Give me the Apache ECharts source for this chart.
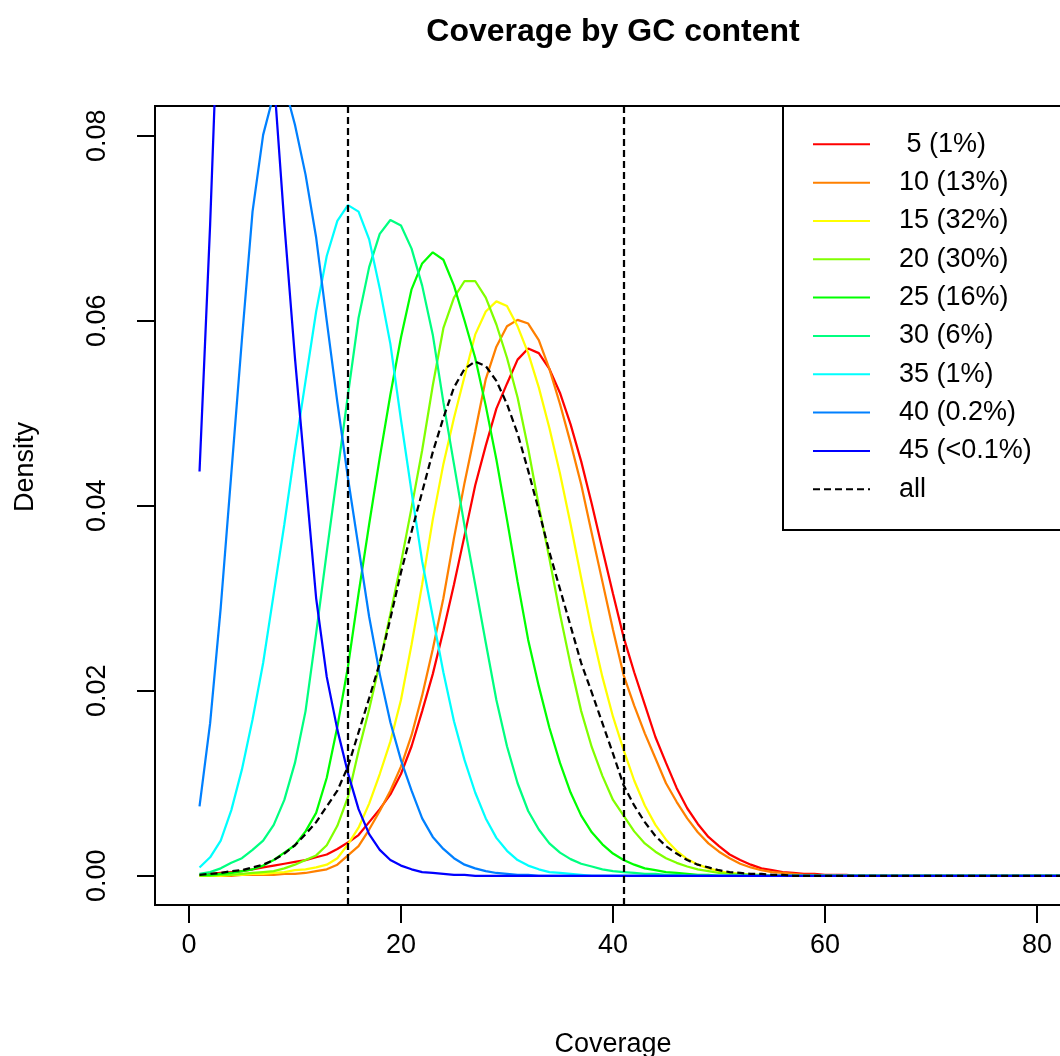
<!DOCTYPE html>
<html><head><meta charset="utf-8">
<script src="https://cdn.jsdelivr.net/npm/echarts@6/dist/echarts.min.js"></script>
<style>html,body{margin:0;padding:0;background:#fff}#c{width:1060px;height:1056px}</style>
</head><body><div id="c"></div>
<script>
// Coverage values (x)
const coverage = [1,2,3,4,5,6,7,8,9,10,11,12,13,14,15,16,17,18,19,20,21,22,23,24,25,26,27,28,29,30,31,32,33,34,35,36,37,38,39,40,41,42,43,44,45,46,47,48,49,50,51,52,53,54,55,56,57,58,59,60,61,62,63,64,65,66,67,68,69,70,71,72,73,74,75,76,77,78,79,80,81,82,83,84,85];

// Density per GC bin
const gc5 = [0.0001,0.0002,0.0003,0.0004,0.0005,0.0007,0.0009,0.0011,0.0013,0.0015,
0.0017,0.0020,0.0023,0.0029,0.0036,0.0044,0.0058,0.0072,0.0088,0.0110,
0.0140,0.0178,0.0218,0.0265,0.0315,0.0368,0.0422,0.0465,0.0505,0.0532,
0.0558,0.0570,0.0565,0.0548,0.0522,0.0488,0.0448,0.0402,0.0353,0.0305,
0.0258,0.0220,0.0185,0.0150,0.0122,0.0095,0.0073,0.0056,0.0042,0.0032,
0.0023,0.0017,0.0012,0.0008,0.0006,0.0004,0.0003,0.0002,0.0002,0.0001,
0.0001,0.0001,0,0,0,0,0,0,0,0,
0,0,0,0,0,0,0,0,0,0,0,0,0,0,0];
const gc10 = [0,0,0,0,0.0001,0.0001,0.0001,0.0001,0.0002,0.0002,
0.0003,0.0005,0.0007,0.0012,0.0022,0.0032,0.0050,0.0070,0.0092,0.0118,
0.0152,0.0195,0.0245,0.0300,0.0365,0.0425,0.0480,0.0537,0.0572,0.0594,
0.0601,0.0597,0.0579,0.0548,0.0510,0.0468,0.0423,0.0370,0.0318,0.0266,
0.0217,0.0184,0.0154,0.0127,0.0100,0.0080,0.0062,0.0047,0.0035,0.0026,
0.0019,0.0013,0.0009,0.0006,0.0004,0.0003,0.0002,0.0001,0.0001,0,
0,0,0,0,0,0,0,0,0,0,
0,0,0,0,0,0,0,0,0,0,0,0,0,0,0];
const gc15 = [0,0,0,0.0001,0.0001,0.0002,0.0002,0.0003,0.0004,0.0006,
0.0007,0.0009,0.0012,0.0019,0.0034,0.0052,0.0078,0.0110,0.0145,0.0190,
0.0250,0.0315,0.0385,0.0445,0.0495,0.0540,0.0585,0.0610,0.0621,0.0616,
0.0594,0.0565,0.0528,0.0484,0.0435,0.0380,0.0322,0.0265,0.0215,0.0172,
0.0136,0.0103,0.0076,0.0055,0.0039,0.0027,0.0018,0.0012,0.0008,0.0005,
0.0003,0.0002,0.0001,0.0001,0,0,0,0,0,0,
0,0,0,0,0,0,0,0,0,0,
0,0,0,0,0,0,0,0,0,0,0,0,0,0,0];
const gc20 = [0,0,0.0001,0.0001,0.0002,0.0003,0.0004,0.0005,0.0008,0.0012,
0.0017,0.0022,0.0033,0.0054,0.0085,0.0135,0.0180,0.0230,0.0283,0.0338,
0.0398,0.0460,0.0530,0.0592,0.0625,0.0643,0.0643,0.0625,0.0596,0.0560,
0.0517,0.0462,0.0400,0.0343,0.0283,0.0228,0.0178,0.0139,0.0108,0.0082,
0.0065,0.0048,0.0035,0.0026,0.0019,0.0014,0.0010,0.0007,0.0005,0.0003,
0.0002,0.0002,0.0001,0.0001,0,0,0,0,0,0,
0,0,0,0,0,0,0,0,0,0,
0,0,0,0,0,0,0,0,0,0,0,0,0,0,0];
const gc25 = [0.0001,0.0001,0.0002,0.0003,0.0005,0.0007,0.0011,0.0017,0.0025,0.0033,
0.0048,0.0068,0.0106,0.0161,0.0226,0.0305,0.0380,0.0452,0.0520,0.0582,
0.0634,0.0662,0.0674,0.0666,0.0638,0.0600,0.0560,0.0508,0.0450,0.0385,
0.0318,0.0255,0.0205,0.0160,0.0122,0.0090,0.0065,0.0047,0.0034,0.0024,
0.0017,0.0012,0.0008,0.0006,0.0004,0.0003,0.0002,0.0001,0.0001,0,
0,0,0,0,0,0,0,0,0,0,
0,0,0,0,0,0,0,0,0,0,
0,0,0,0,0,0,0,0,0,0,0,0,0,0,0];
const gc30 = [0.0002,0.0004,0.0008,0.0014,0.0019,0.0028,0.0038,0.0055,0.0082,0.0122,
0.0178,0.0262,0.0350,0.0435,0.0520,0.0603,0.0658,0.0694,0.0709,0.0703,
0.0678,0.0638,0.0585,0.0512,0.0445,0.0378,0.0315,0.0252,0.0190,0.0140,
0.0100,0.0070,0.0050,0.0035,0.0025,0.0018,0.0013,0.0010,0.0007,0.0005,
0.0004,0.0003,0.0002,0.0002,0.0001,0.0001,0,0,0,0,
0,0,0,0,0,0,0,0,0,0,
0,0,0,0,0,0,0,0,0,0,
0,0,0,0,0,0,0,0,0,0,0,0,0,0,0];
const gc35 = [0.0009,0.0020,0.0038,0.0071,0.0115,0.0169,0.0230,0.0305,0.0380,0.0460,
0.0535,0.0610,0.0670,0.0708,0.0725,0.0718,0.0688,0.0635,0.0575,0.0493,
0.0415,0.0340,0.0280,0.0220,0.0167,0.0125,0.0090,0.0062,0.0041,0.0027,
0.0017,0.0011,0.0007,0.0004,0.0003,0.0002,0.0001,0,0,0,
0,0,0,0,0,0,0,0,0,0,
0,0,0,0,0,0,0,0,0,0,
0,0,0,0,0,0,0,0,0,0,
0,0,0,0,0,0,0,0,0,0,0,0,0,0,0];
const gc40 = [0.0075,0.0165,0.0290,0.0435,0.0580,0.0718,0.0801,0.0845,0.0855,0.0812,
0.0758,0.0690,0.0600,0.0512,0.0430,0.0355,0.0280,0.0218,0.0166,0.0125,
0.0092,0.0062,0.0042,0.0029,0.0019,0.0012,0.0008,0.0005,0.0003,0.0002,
0.0001,0.0001,0,0,0,0,0,0,0,0,
0,0,0,0,0,0,0,0,0,0,
0,0,0,0,0,0,0,0,0,0,
0,0,0,0,0,0,0,0,0,0,
0,0,0,0,0,0,0,0,0,0,0,0,0,0,0];
const gc45 = [0.0437,0.0704,0.1020,0.1120,0.1140,0.1100,0.1000,0.0865,0.0705,0.0560,
0.0430,0.0300,0.0215,0.0158,0.0111,0.0072,0.0045,0.0028,0.0017,0.0011,
0.0007,0.0004,0.0003,0.0002,0.0001,0.0001,0,0,0,0,
0,0,0,0,0,0,0,0,0,0,
0,0,0,0,0,0,0,0,0,0,
0,0,0,0,0,0,0,0,0,0,
0,0,0,0,0,0,0,0,0,0,
0,0,0,0,0,0,0,0,0,0,0,0,0,0,0];
const allGc = [0.0001,0.0002,0.0003,0.0005,0.0006,0.0009,0.0012,0.0017,0.0024,0.0033,
0.0045,0.0058,0.0075,0.0092,0.0118,0.0155,0.0192,0.0230,0.0278,0.0328,
0.0372,0.0415,0.0458,0.0495,0.0528,0.0548,0.0556,0.0551,0.0535,0.0510,
0.0478,0.0438,0.0395,0.0350,0.0310,0.0270,0.0230,0.0198,0.0165,0.0132,
0.0098,0.0076,0.0058,0.0043,0.0032,0.0024,0.0017,0.0012,0.0009,0.0006,
0.0004,0.0003,0.0002,0.0002,0.0001,0.0001,0,0,0,0,
0,0,0,0,0,0,0,0,0,0,
0,0,0,0,0,0,0,0,0,0,0,0,0,0,0];

const binNames = [' 5 (1%)','10 (13%)','15 (32%)','20 (30%)','25 (16%)','30 (6%)','35 (1%)','40 (0.2%)','45 (<0.1%)'];
const binValues = [gc5, gc10, gc15, gc20, gc25, gc30, gc35, gc40, gc45];
const binColors = ['#FF0000','#FF8000','#FFFF00','#80FF00','#00FF00','#00FF80','#00FFFF','#0080FF','#0000FF'];
const allName = 'all';
const cutoffs = [15, 41];
const xTicks = [0, 20, 40, 60, 80];
const yTicks = [0, 0.02, 0.04, 0.06, 0.08];

const FONT = "'Liberation Sans', Arial, Helvetica, sans-serif";
const DASH = [7, 4];
const LW = 2.25;

const series = binValues.map((vals, k) => ({
  name: binNames[k], type: 'line', symbol: 'none', showSymbol: false,
  data: coverage.map((x, i) => [x, vals[i]]),
  lineStyle: {color: binColors[k], width: LW}, itemStyle: {color: binColors[k]},
  z: 2
}));
series.push({
  name: allName, type: 'line', symbol: 'none', showSymbol: false,
  data: coverage.map((x, i) => [x, allGc[i]]),
  lineStyle: {color: '#000', width: LW, type: DASH}, itemStyle: {color: '#000'},
  z: 3,
  markLine: {
    silent: true, symbol: ['none', 'none'], label: {show: false},
    lineStyle: {color: '#000', width: LW, type: DASH},
    data: cutoffs.map(c => ({xAxis: c}))
  }
});

const chart = echarts.init(document.getElementById('c'), null, {renderer: 'canvas'});
chart.setOption({
  animation: false,
  backgroundColor: '#fff',
  textStyle: {fontFamily: FONT},
  grid: {left: 155, top: 106, width: 916, height: 799, show: true, borderColor: '#000', borderWidth: 2,
    backgroundColor: 'transparent', containLabel: false, outerBoundsMode: 'none'},
  xAxis: {
    type: 'value', min: -3.2, max: 83.2,
    splitLine: {show: false},
    axisLine: {show: false, onZero: false},
    axisTick: {show: true, customValues: xTicks, length: 18, lineStyle: {color: '#000', width: 2}},
    axisLabel: {customValues: xTicks, margin: 27, fontSize: 27, color: '#000', fontFamily: FONT},
    name: 'Coverage', nameLocation: 'middle', nameGap: 126,
    nameTextStyle: {fontSize: 27, color: '#000', fontFamily: FONT}
  },
  yAxis: {
    type: 'value', min: -0.00316, max: 0.08322,
    splitLine: {show: false},
    axisLine: {show: false, onZero: false},
    axisTick: {show: true, customValues: yTicks, length: 18, lineStyle: {color: '#000', width: 2}},
    axisLabel: {customValues: yTicks, rotate: 90, margin: 44, fontSize: 27, color: '#000', fontFamily: FONT,
      formatter: v => v.toFixed(2)}
  },
  legend: {
    orient: 'vertical', left: 812, top: 130.8, padding: 0,
    itemWidth: 57, itemHeight: 14, itemGap: 11.33,
    itemStyle: {opacity: 0},
    textStyle: {fontSize: 27, lineHeight: 27, color: '#000', fontFamily: FONT, padding: [0, 0, 0, 24]},
    data: binNames.concat([allName])
  },
  graphic: [
    {type: 'rect', shape: {x: 783, y: 106, width: 288, height: 424}, style: {fill: 'none', stroke: '#000', lineWidth: 2}, z: 10},
    {type: 'text', x: 613, y: 32, style: {text: 'Coverage by GC content', textAlign: 'center', textVerticalAlign: 'middle', font: "bold 32px 'Liberation Sans', Arial, sans-serif", fill: '#000'}, z: 10},
    {type: 'text', x: 26, y: 467, rotation: Math.PI / 2, style: {text: 'Density', textAlign: 'center', textVerticalAlign: 'middle', font: "27px 'Liberation Sans', Arial, sans-serif", fill: '#000'}, z: 10}
  ],
  series: series
});
</script></body></html>
